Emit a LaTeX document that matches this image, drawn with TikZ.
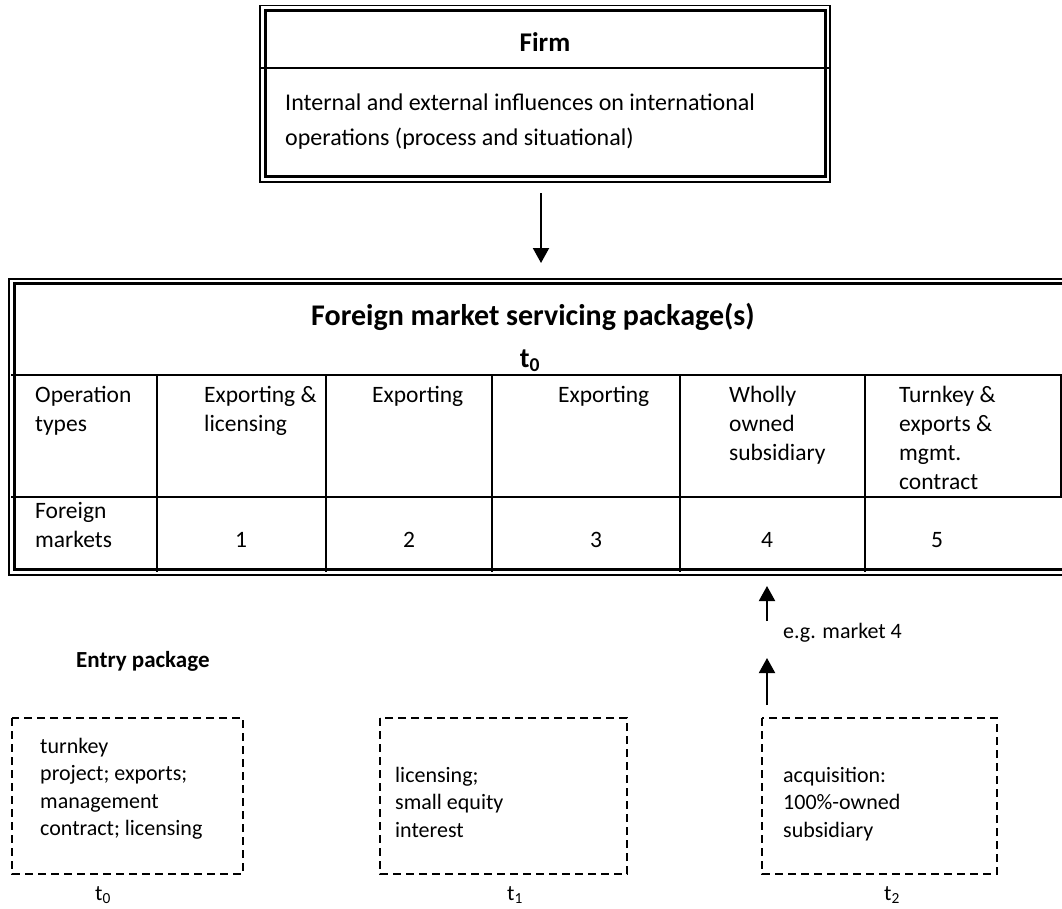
\documentclass[tikz,border=0pt]{standalone}
\usepackage{fontspec}
\setmainfont{Carlito}
\usetikzlibrary{arrows.meta}

% left-aligned stack of lines whose baseline is the first line's
\newcommand{\stacklines}[1]{\begin{tabular}[t]{@{}l@{}}#1\end{tabular}}

\newcommand{\firmfont}{\fontsize{24}{35}\selectfont}
\newcommand{\tablefont}{\fontsize{23.5}{29}\selectfont}
\newcommand{\entryfont}{\fontsize{22}{27.5}\selectfont}

\tikzset{
  thinrule/.style={line width=1.2pt},
  thickrule/.style={line width=3pt},
  gridline/.style={line width=1.3pt},
  txt/.style={inner sep=0pt, anchor=base west},
  ctxt/.style={inner sep=0pt, anchor=base},
  dashbox/.style={line width=1.6pt, dash pattern=on 8pt off 5pt},
  wordarrow/.style={line width=2pt, -{Triangle[length=15pt,width=16pt]}},
}

\begin{document}
\begin{tikzpicture}[x=1pt,y=-1pt]
\useasboundingbox (0,0) rectangle (1062,908);
\clip (0,0) rectangle (1062,908);

% ---------- firm box (double border) ----------
\draw[thinrule] (260,5.7) rectangle (830,182);
\draw[thickrule] (265,10.5) rectangle (825,176);
\draw[gridline] (261,68) -- (829,68);
\node[ctxt, font=\fontsize{27}{32}\selectfont\bfseries] (firm) at (545,51) {Firm};
\node[txt, font=\firmfont] (influences) at (285,110)
  {\stacklines{Internal and external influences on international\\operations (process and situational)}};

% ---------- arrow firm -> package ----------
\coordinate (firmout) at (541,193);
\coordinate (pkgin) at (541,263);
\draw[wordarrow] (firmout) -- (pkgin);

% ---------- foreign market servicing package table ----------
\draw[thinrule] (9,279) rectangle (1090,575);
\draw[thickrule] (14,283.5) rectangle (1085,569.5);
\draw[gridline] (11,375) -- (1085,375);
\draw[gridline] (11,497) -- (1085,497);
\foreach \cx in {157,326,492,680,865}
  \draw[gridline] (\cx,375) -- (\cx,572);
\draw[gridline] (1061,375) -- (1061,497);

\node[ctxt, font=\fontsize{30}{36}\selectfont\bfseries] (pkgtitle) at (533,325)
  {Foreign market servicing package(s)};
\node[ctxt, font=\fontsize{28}{34}\selectfont\bfseries] (pkgtime) at (530,367) {t\textsubscript{0}};

\node[txt, font=\tablefont] (optypes) at (35,402) {\stacklines{Operation\\types}};
\node[txt, font=\tablefont] (op1) at (204,402) {\stacklines{Exporting \&\\licensing}};
\node[txt, font=\tablefont] (op2) at (372,402) {Exporting};
\node[txt, font=\tablefont] (op3) at (558,402) {Exporting};
\node[txt, font=\tablefont] (op4) at (729,402) {\stacklines{Wholly\\owned\\subsidiary}};
\node[txt, font=\tablefont] (op5) at (899,402) {\stacklines{Turnkey \&\\exports \&\\mgmt.\\contract}};

\node[txt, font=\tablefont] (markets) at (35,518) {\stacklines{Foreign\\markets}};
\node[ctxt, font=\tablefont] (m1) at (241,547) {1};
\node[ctxt, font=\tablefont] (m2) at (409,547) {2};
\node[ctxt, font=\tablefont] (m3) at (596,547) {3};
\node[ctxt, font=\tablefont] (m4) at (767,547) {4};
\node[ctxt, font=\tablefont] (m5) at (937,547) {5};

% ---------- entry package ----------
\node[txt, font=\fontsize{23}{28}\selectfont\bfseries] (entry) at (76,667) {Entry package};

\coordinate (mkt4in) at (767,586);
\coordinate (mkt4out) at (767,621);
\coordinate (entryin) at (767,658);
\coordinate (entryout) at (767,705);
\draw[wordarrow] (mkt4out) -- (mkt4in);
\draw[wordarrow] (entryout) -- (entryin);
\node[txt, font=\entryfont] (eg) at (783,638) {e.g. market 4};

\draw[dashbox] (12,718) rectangle (243,874);
\draw[dashbox] (380,718) rectangle (627,874);
\draw[dashbox] (762,718) rectangle (997,874);

\node[txt, font=\entryfont] (e0) at (40,753)
  {\stacklines{turnkey\\project; exports;\\management\\contract; licensing}};
\node[txt, font=\entryfont] (e1) at (395,782)
  {\stacklines{licensing;\\small equity\\interest}};
\node[txt, font=\entryfont] (e2) at (783,782)
  {\stacklines{acquisition:\\100\%-owned\\subsidiary}};

\node[ctxt, font=\entryfont] (t0) at (103,900) {t\textsubscript{0}};
\node[ctxt, font=\entryfont] (t1) at (515,900) {t\textsubscript{1}};
\node[ctxt, font=\entryfont] (t2) at (892,900) {t\textsubscript{2}};
\end{tikzpicture}
\end{document}
